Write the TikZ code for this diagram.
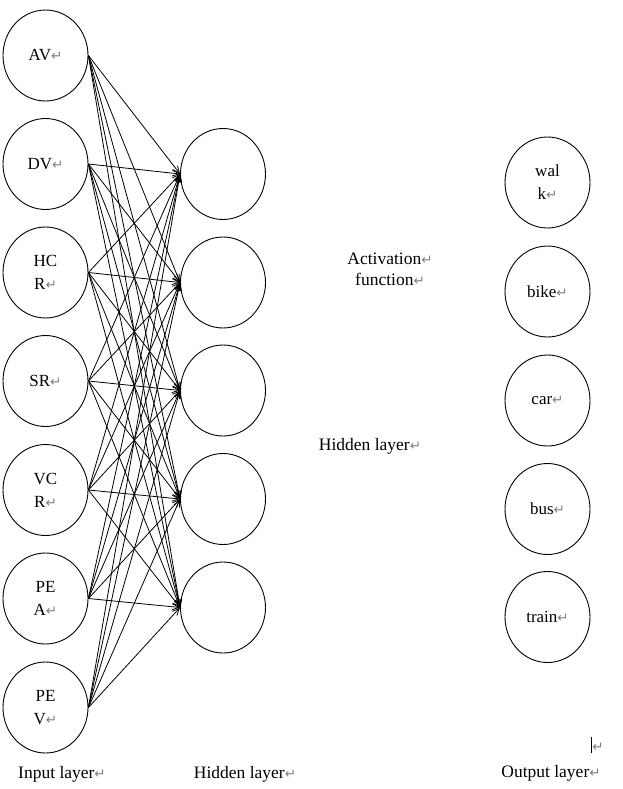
\documentclass[tikz,border=0pt]{standalone}
\usepackage{fontspec}
\setmainfont{Liberation Serif}
\newfontfamily\dvfont{DejaVu Sans}
\usetikzlibrary{shapes.geometric,arrows.meta}
\newcommand{\pmark}{{\color{gray}\dvfont\fontsize{13.5}{14}\selectfont ↵}}
\tikzset{
  neuron/.style={draw, ellipse, line width=0.9pt, inner sep=0pt, minimum width=85pt, minimum height=91pt, align=center, font=\fontsize{17}{23}\selectfont},
  conn/.style={line width=0.8pt, -{Straight Barb[length=7pt,width=6pt]}},
  lbl/.style={font=\fontsize{17.5}{21}\selectfont, align=center, inner sep=0pt}
}
\begin{document}
\begin{tikzpicture}[x=1pt,y=-1pt]
\useasboundingbox (0,0) rectangle (623,789);
% input layer
\node[neuron] (i1) at (45.5,55.5) {AV\pmark};
\node[neuron] (i2) at (45.5,164) {DV\pmark};
\node[neuron] (i3) at (45.5,272.5) {HC\\R\pmark};
\node[neuron] (i4) at (45.5,381) {SR\pmark};
\node[neuron] (i5) at (45.5,490) {VC\\R\pmark};
\node[neuron] (i6) at (45.5,598.5) {PE\\A\pmark};
\node[neuron] (i7) at (45.5,707.5) {PE\\V\pmark};
% hidden layer
\node[neuron] (h1) at (223,174) {};
\node[neuron] (h2) at (223,282.5) {};
\node[neuron] (h3) at (223,390.5) {};
\node[neuron] (h4) at (223,499) {};
\node[neuron] (h5) at (223,607.5) {};
% output layer
\node[neuron] (o1) at (547.5,182.5) {wal\\k\pmark};
\node[neuron] (o2) at (547.5,291.5) {bike\pmark};
\node[neuron] (o3) at (547.5,400.5) {car\pmark};
\node[neuron] (o4) at (547.5,509) {bus\pmark};
\node[neuron] (o5) at (547.5,617) {train\pmark};
% connections
\foreach \i in {1,...,7}{
  \foreach \h in {1,...,5}{
    \draw[conn] (i\i.east) -- (h\h.west);
  }
}
% texts
\node[lbl] (act) at (390,269) {Activation\pmark\\function\pmark};
\node[lbl] (hid) at (370,446) {Hidden layer\pmark};
\node[lbl] (inl) at (62,774) {Input layer\pmark};
\node[lbl] (hil) at (245,774) {Hidden layer\pmark};
\node[lbl] (oul) at (551,773) {Output layer\pmark};
\coordinate (cur1) at (591,737);
\coordinate (cur2) at (591,753);
\draw[line width=0.9pt] (cur1) -- (cur2);
\node[inner sep=0pt] (pm) at (598,747) {\pmark};
\end{tikzpicture}
\end{document}
